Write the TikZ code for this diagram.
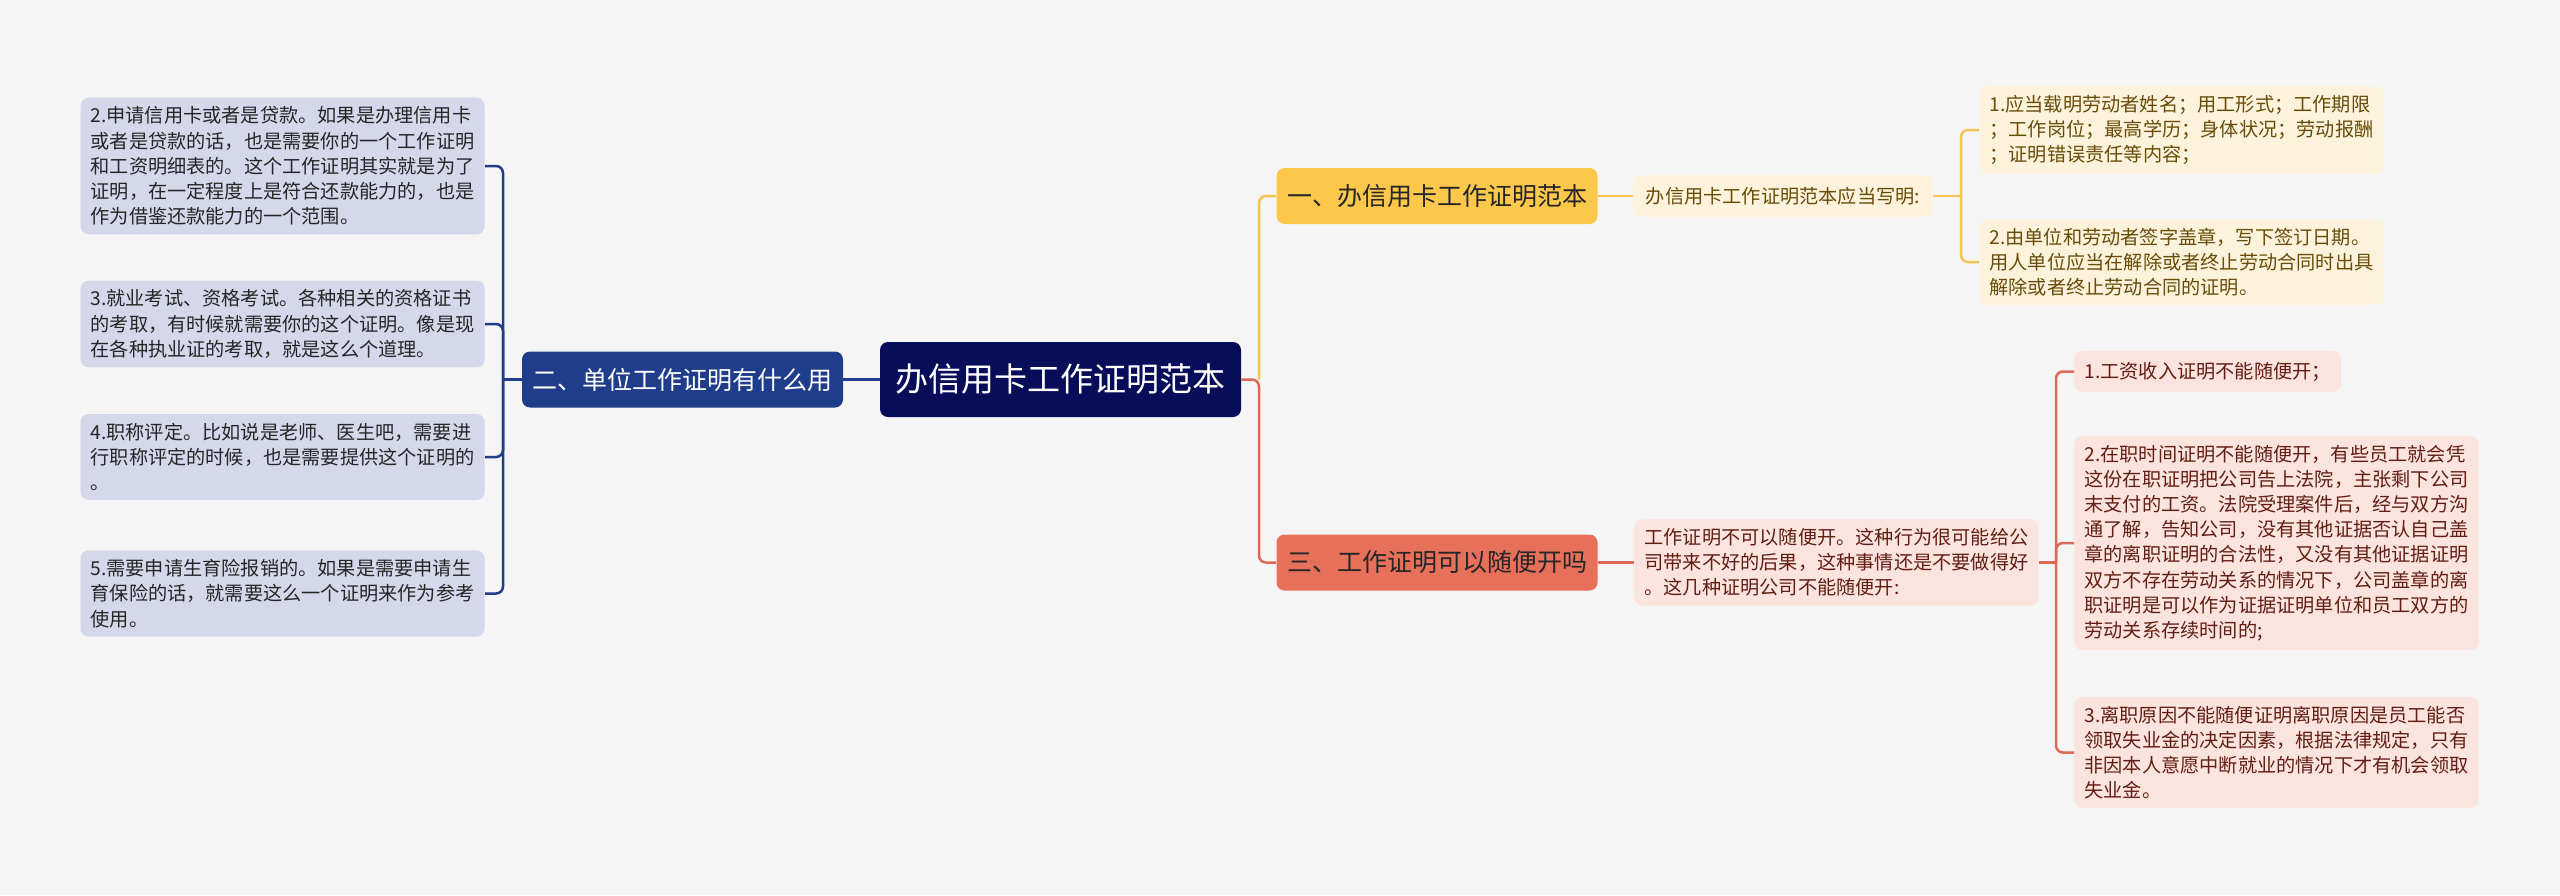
\documentclass[tikz,border=0pt]{standalone}
\usepackage{fontspec}
\setmainfont{Noto Sans CJK SC}
\usepackage{tikz}
\usetikzlibrary{positioning,calc}
\usepackage{xcolor}
\definecolor{bgcol}{RGB}{245,245,245}
\definecolor{rootblue}{RGB}{8,13,90}
\definecolor{navy}{RGB}{31,61,138}
\definecolor{navylight}{RGB}{212,216,234}
\definecolor{gold}{RGB}{252,200,76}
\definecolor{goldline}{RGB}{245,195,82}
\definecolor{cream}{RGB}{253,243,220}
\definecolor{goldtext}{RGB}{104,76,8}
\definecolor{coral}{RGB}{231,112,90}
\definecolor{coralline}{RGB}{220,106,86}
\definecolor{blush}{RGB}{251,228,222}
\definecolor{coraltext}{RGB}{98,30,20}

\begin{document}
\begin{tikzpicture}[x=0.5pt, y=-0.5pt,
    card/.style={rectangle, rounded corners=4pt, inner xsep=5pt, inner ysep=4.5pt},
    root/.style={card, fill=rootblue, text=white, minimum width=180.5pt, minimum height=37.5pt,
                 font=\fontsize{16.5}{20}\selectfont},
    topic/.style={card, minimum width=160.5pt, minimum height=28pt, font=\fontsize{12.5}{15}\selectfont},
    leaf/.style={card, align=left, font=\fontsize{9.6}{12.6}\selectfont},
    wire/.style={line width=1.25pt, rounded corners=3.5pt}
]
    \fill[bgcol] (0,0) rectangle (2560,895);
    \useasboundingbox (0,0) rectangle (2560,895);

    % centre and main topics
    \node[root] (main) at (1060.5,379.5) {办信用卡工作证明范本};
    \node[topic, fill=navy, text=white] (use) at (682.5,379.5) {二、单位工作证明有什么用};
    \node[topic, fill=gold, text=black!85] (sample) at (1437,196) {一、办信用卡工作证明范本};
    \node[topic, fill=coral, text=black!85] (issue) at (1437,562.5) {三、工作证明可以随便开吗};

    % left leaves
    \node[leaf, fill=navylight, text=black!85, minimum width=201pt, anchor=east] (use2) at (485,166)
        {2.申请信用卡或者是贷款。如果是办理信用卡\\或者是贷款的话，也是需要你的一个工作证明\\和工资明细表的。这个工作证明其实就是为了\\证明，在一定程度上是符合还款能力的，也是\\作为借鉴还款能力的一个范围。};
    \node[leaf, fill=navylight, text=black!85, minimum width=201pt, anchor=east] (use3) at (485,324)
        {3.就业考试、资格考试。各种相关的资格证书\\的考取，有时候就需要你的这个证明。像是现\\在各种执业证的考取，就是这么个道理。};
    \node[leaf, fill=navylight, text=black!85, minimum width=201pt, anchor=east] (use4) at (485,457)
        {4.职称评定。比如说是老师、医生吧，需要进\\行职称评定的时候，也是需要提供这个证明的\\。};
    \node[leaf, fill=navylight, text=black!85, minimum width=201pt, anchor=east] (use5) at (485,593.5)
        {5.需要申请生育险报销的。如果是需要申请生\\育保险的话，就需要这么一个证明来作为参考\\使用。};

    % upper right
    \node[leaf, fill=cream, text=goldtext, minimum width=149.5pt, minimum height=21pt, anchor=west] (shouldsay) at (1633,196)
        {办信用卡工作证明范本应当写明:};
    \node[leaf, fill=cream, text=goldtext, minimum width=200.5pt, anchor=west] (say1) at (1979,130)
        {1.应当载明劳动者姓名；用工形式；工作期限\\；工作岗位；最高学历；身体状况；劳动报酬\\；证明错误责任等内容；};
    \node[leaf, fill=cream, text=goldtext, minimum width=200.5pt, anchor=west] (say2) at (1979,262)
        {2.由单位和劳动者签字盖章，写下签订日期。\\用人单位应当在解除或者终止劳动合同时出具\\解除或者终止劳动合同的证明。};

    % lower right
    \node[leaf, fill=blush, text=coraltext, minimum width=201pt, anchor=west] (cannot) at (1634,562.5)
        {工作证明不可以随便开。这种行为很可能给公\\司带来不好的后果，这种事情还是不要做得好\\。这几种证明公司不能随便开:};
    \node[leaf, fill=blush, text=coraltext, minimum height=20.5pt, anchor=west] (kind1) at (2074,371.5)
        {1.工资收入证明不能随便开；};
    \node[leaf, fill=blush, text=coraltext, minimum width=200.5pt, anchor=west] (kind2) at (2074,543)
        {2.在职时间证明不能随便开，有些员工就会凭\\这份在职证明把公司告上法院，主张剩下公司\\末支付的工资。法院受理案件后，经与双方沟\\通了解，告知公司，没有其他证据否认自己盖\\章的离职证明的合法性，又没有其他证据证明\\双方不存在劳动关系的情况下，公司盖章的离\\职证明是可以作为证据证明单位和员工双方的\\劳动关系存续时间的;};
    \node[leaf, fill=blush, text=coraltext, minimum width=200.5pt, anchor=west] (kind3) at (2074,752.5)
        {3.离职原因不能随便证明离职原因是员工能否\\领取失业金的决定因素，根据法律规定，只有\\非因本人意愿中断就业的情况下才有机会领取\\失业金。};

    % joints
    \coordinate (mj) at (1259,379.5);
    \coordinate (lj) at (503,379.5);
    \coordinate (sj) at (1961,196);
    \coordinate (cj) at (2056,562.5);

    % connectors
    \draw[wire, navy] (main.west) -- (use.east);
    \draw[wire, navy] (use.west) -- (lj);
    \foreach \n in {use2,use3,use4,use5}
        \draw[wire, navy] (lj) |- (\n.east);

    \draw[wire, goldline] (mj) |- (sample.west);
    \draw[wire, coralline] (main.east) -- (mj) |- (issue.west);

    \draw[wire, goldline] (sample.east) -- (shouldsay.west);
    \draw[wire, goldline] (shouldsay.east) -- (sj);
    \foreach \n in {say1,say2}
        \draw[wire, goldline] (sj) |- (\n.west);

    \draw[wire, coralline] (issue.east) -- (cannot.west);
    \draw[wire, coralline] (cannot.east) -- (cj);
    \foreach \n in {kind1,kind2,kind3}
        \draw[wire, coralline] (cj) |- (\n.west);
\end{tikzpicture}
\end{document}
